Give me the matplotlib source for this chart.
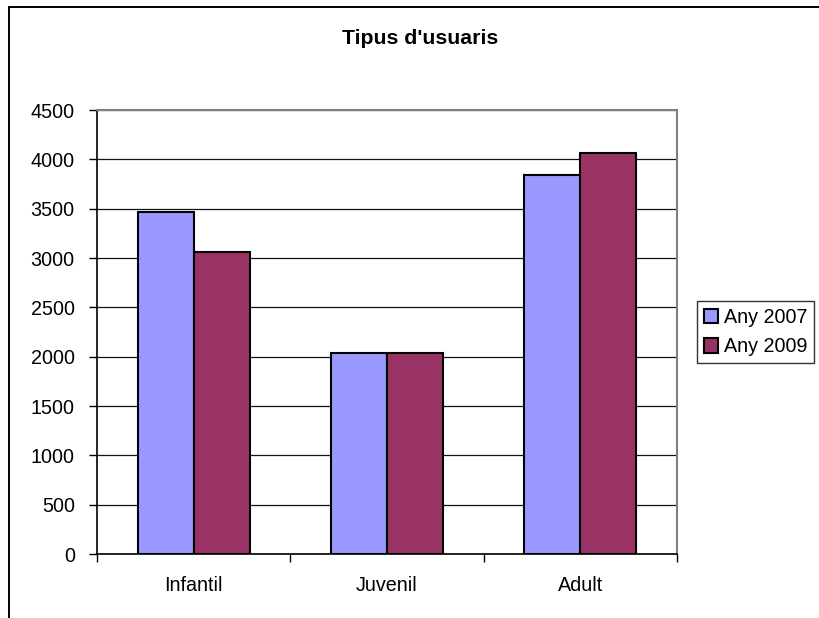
import matplotlib.pyplot as plt
import numpy as np
from matplotlib.patches import Rectangle

categories = ['Infantil', 'Juvenil', 'Adult']
series_names = ['Any 2007', 'Any 2009']
any_2007 = [3470, 2040, 3840]
any_2009 = [3065, 2040, 4065]
colors = ['#9999FF', '#993366']

plt.rcParams['font.family'] = ['Liberation Sans', 'DejaVu Sans']

W, H = 819, 618
fig = plt.figure(figsize=(W / 100, H / 100), dpi=100)

# chart area border (right and bottom edges fall outside the picture)
fig.patches.append(Rectangle((9 / W, -0.1), 1.2, 1 - 7 / H + 0.1,
                             transform=fig.transFigure, fill=False,
                             edgecolor='black', linewidth=1.4))

left, right, top, bottom = 97, 677, 110, 554
ax = fig.add_axes([left / W, 1 - bottom / H, (right - left) / W, (bottom - top) / H])

x = np.arange(len(categories))
w = 0.29
b1 = ax.bar(x - w / 2, any_2007, w, color=colors[0], edgecolor='black',
            linewidth=1.5, label=series_names[0], zorder=3)
b2 = ax.bar(x + w / 2, any_2009, w, color=colors[1], edgecolor='black',
            linewidth=1.5, label=series_names[1], zorder=3)

ax.set_xlim(-0.5, 2.5)
ax.set_ylim(0, 4500)
ax.set_yticks(range(0, 4501, 500))
ax.yaxis.grid(True, color='#111111', linewidth=0.9, zorder=0)
ax.set_axisbelow(True)

fs = 14.2
ax.set_xticks(x)
ax.set_xticklabels(categories)
ax.set_xticks([-0.5, 0.5, 1.5, 2.5], minor=True)
ax.tick_params(axis='x', which='major', length=0, pad=16, labelsize=fs)
ax.tick_params(axis='x', which='minor', length=6, width=1, direction='out')
ax.tick_params(axis='y', length=6, width=1, direction='out', pad=10, labelsize=fs)

for s in ['left', 'bottom']:
    ax.spines[s].set_color('black')
    ax.spines[s].set_linewidth(1.2)
for s in ['top', 'right']:
    ax.spines[s].set_color('#808080')
    ax.spines[s].set_linewidth(1.5)

fig.text(420 / W, 1 - 39 / H, "Tipus d'usuaris", ha='center', va='center',
         fontsize=15.3, fontweight='bold')

leg = fig.legend(handles=[b1, b2], loc='center left',
                 bbox_to_anchor=(697 / W, 1 - 332 / H), fontsize=fs,
                 frameon=True, fancybox=False, handlelength=0.72,
                 handleheight=0.72, handletextpad=0.3, borderpad=0.35,
                 labelspacing=0.55, borderaxespad=0)
leg.get_frame().set_edgecolor('black')
leg.get_frame().set_linewidth(1.0)

fig.savefig('out.png', dpi=100)
